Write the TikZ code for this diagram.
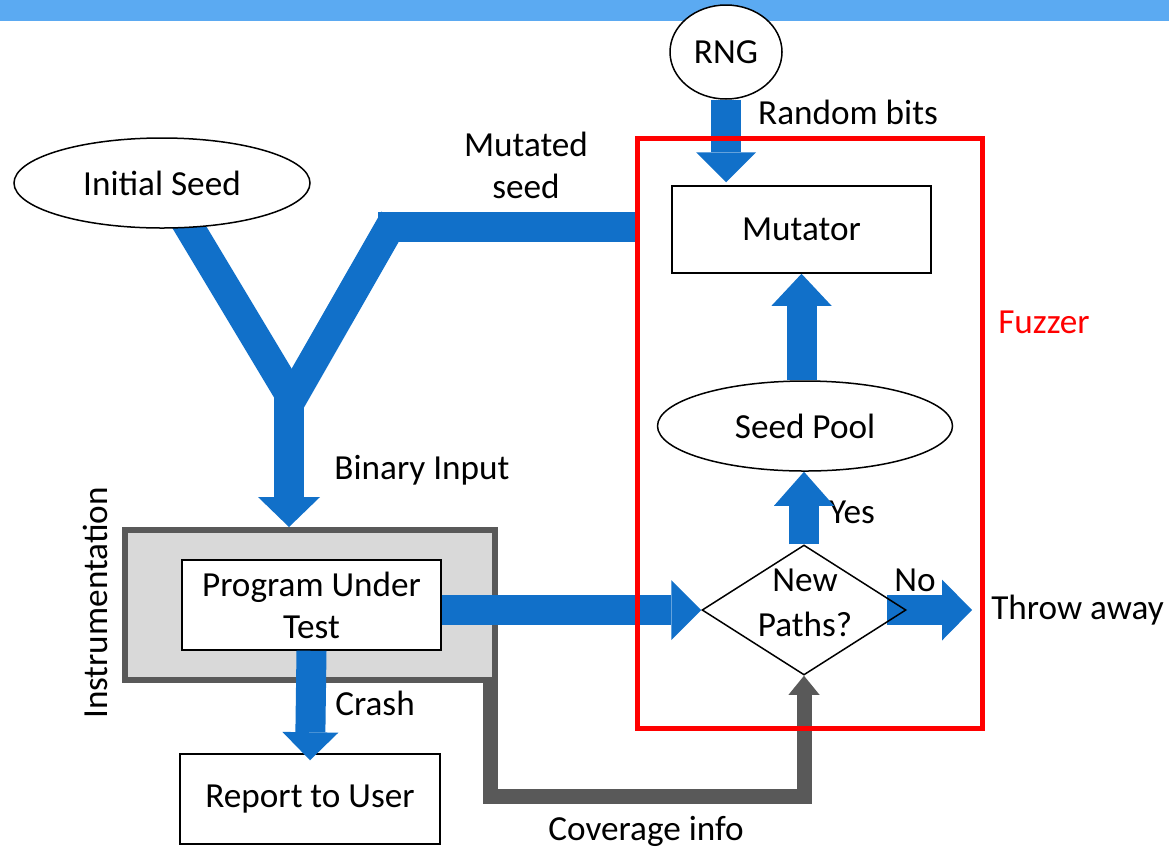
\documentclass[tikz,border=0pt]{standalone}
\usepackage{fontspec}
\setmainfont{Carlito}
\usetikzlibrary{shapes.geometric,arrows.meta,backgrounds}
\newlength{\pxu}\setlength{\pxu}{0.75pt}
\definecolor{flowblue}{HTML}{1170C9}
\definecolor{bandblue}{HTML}{5BAAF2}
\definecolor{boxgray}{HTML}{D9D9D9}
\definecolor{edgegray}{HTML}{595959}
\definecolor{fuzzred}{HTML}{FF0000}
\begin{document}
\begin{tikzpicture}[x=0.75pt,y=-0.75pt,
  font=\fontsize{26.4}{31.5}\selectfont,
  box/.style={draw=black, line width=1.5\pxu, fill=white, inner sep=0pt, align=center},
  oval/.style={ellipse, draw=black, line width=1.5\pxu, fill=white, inner sep=0pt},
  flow/.style={draw=flowblue, line width=30\pxu, line cap=butt,
    -{Triangle[width=45pt, length=22.5pt, line width=0pt]}},
  band/.style={draw=flowblue, line width=30\pxu, line cap=butt},
  coverflow/.style={draw=edgegray, line width=15\pxu, line join=miter,
    -{Triangle[width=23.25pt, length=14.25pt, line width=0pt]}},
  lbl/.style={inner sep=0pt, align=center}]
\useasboundingbox (0,0) rectangle (1169,851);

% title band
\fill[bandblue] (0,0) rectangle (1169,21);

% instrumented program
\node[draw=edgegray, fill=boxgray, line width=6\pxu, inner sep=0pt,
  minimum width=370\pxu, minimum height=150\pxu] (instr) at (310,605) {};
\node[box, minimum width=259\pxu, minimum height=90\pxu] (prog) at (311.5,605) {Program Under\\Test};
\node[lbl, rotate=90] (instrlbl) at (95,603) {Instrumentation};
\node[box, minimum width=260\pxu, minimum height=90\pxu] (report) at (310,799) {Report to User};

% seeds and fuzzer parts
\node[oval, minimum width=296\pxu, minimum height=90\pxu] (seed) at (162,183) {Initial Seed};
\node[oval, minimum width=112\pxu, minimum height=94\pxu] (rng) at (726,52) {RNG};
\node[box, minimum width=259\pxu, minimum height=87\pxu] (mutator) at (801.5,229.5) {Mutator};
\node[oval, minimum width=295\pxu, minimum height=90\pxu] (pool) at (805,426) {Seed Pool};
\node[diamond, draw=black, line width=1.5\pxu, inner sep=0pt,
  minimum width=204\pxu, minimum height=130\pxu] (newp) at (804,610) {};
\node[lbl, font=\fontsize{26.4}{33.5}\selectfont] (newplbl) at (805,603) {New\\Paths?};
\node[lbl, anchor=west] (throw) at (991,610) {Throw away};

% labels
\node[lbl] (bitslbl) at (848,112) {Random bits};
\node[lbl] (mutlbl) at (526,165) {Mutated\\seed};
\node[lbl, text=fuzzred] (fuzzlbl) at (1044,322) {Fuzzer};
\node[lbl] (yeslbl) at (852,512) {Yes};
\node[lbl] (nolbl) at (915,580) {No};
\node[lbl] (binlbl) at (422,470) {Binary Input};
\node[lbl] (crashlbl) at (375,703) {Crash};
\node[lbl] (covlbl) at (646,831) {Coverage info};

% joining points of the seed paths
\coordinate (leftarm) at (176,205);
\coordinate (merge) at (293,400);
\coordinate (rightarm) at (394.5,219);
\coordinate (barstart) at (378,227);
\coordinate (stemtop) at (289,389);

% seed paths into the program; the left arm starts under the seed oval
\begin{pgfonlayer}{background}
  \draw[band] (leftarm) -- (merge);
\end{pgfonlayer}
\draw[band] ([xshift=-2\pxu]merge) -- (rightarm);
\draw[band] (barstart) -- ([xshift=-35\pxu]mutator.west |- barstart);
\draw[flow, -{Triangle[width=46.5pt, length=22.5pt, line width=0pt]}]
  (stemtop) -- (stemtop |- instr.north);

% coverage feedback
\draw[coverflow] ([xshift=-8\pxu]instr.south east) -- ++(0,113) -| (newp.south);

% fuzzer flows
\draw[flow] (rng.south) -- ([yshift=3\pxu]rng.south |- mutator.north);
\draw[flow, -{Triangle[width=45pt, length=24pt, line width=0pt]}]
  (pool.north -| mutator.south) -- (mutator.south);
\draw[flow, -{Triangle[width=45pt, length=25.5pt, line width=0pt]}]
  (newp.north) -- (newp.north |- pool.south);
\draw[flow] (prog.east |- newp.west) -- (newp.west);
\draw[flow, -{Triangle[width=42pt, length=21pt, line width=0pt]}]
  (prog.south) -- ([yshift=-7\pxu]report.north);
\begin{pgfonlayer}{background}
  \draw[flow, -{Triangle[width=45.75pt, length=22.5pt, line width=0pt]}]
    ([xshift=-20\pxu]newp.east) -- ([xshift=-19\pxu]throw.west);
\end{pgfonlayer}

% fuzzer boundary
\node[draw=fuzzred, line width=5\pxu, inner sep=0pt,
  minimum width=345\pxu, minimum height=590\pxu] (fuzz) at (809.5,433) {};
\end{tikzpicture}
\end{document}
